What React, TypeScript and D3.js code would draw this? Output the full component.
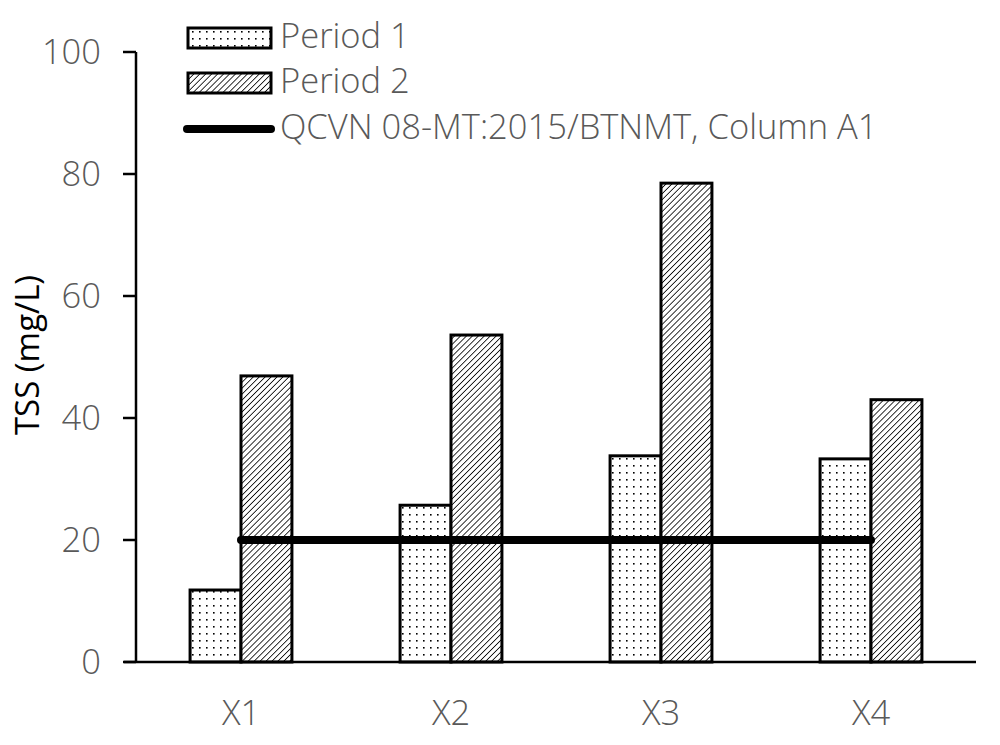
import React from "react";
import * as d3 from "d3";

const categories = ["X1", "X2", "X3", "X4"];
const period1 = [11.8, 25.7, 33.8, 33.3];
const period2 = [46.9, 53.6, 78.5, 43.0];
const standardValue = 20;
const yTicks = [0, 20, 40, 60, 80, 100];
const seriesNames = ["Period 1", "Period 2", "QCVN 08-MT:2015/BTNMT, Column A1"];

export default function App() {
  const W = 1000, H = 745;
  const left = 136, right = 976, top = 52, bottom = 662;
  const x = d3.scaleBand<string>().domain(categories).range([left, right]).paddingInner(0.515).paddingOuter(0.2575);
  const y = d3.scaleLinear().domain([0, 100]).range([bottom, top]);
  const bw = x.bandwidth() / 2;
  const font = "'Open Sans', 'Noto Sans', sans-serif";
  const gray = "#595959";
  const lineX0 = (x(categories[0]) as number) + bw;
  const lineX1 = (x(categories[categories.length - 1]) as number) + bw;
  const fs = 34.5;
  return (
    <svg width={W} height={H} style={{ position: "absolute", left: 0, top: 0, background: "#fff" }}>
      <defs>
        <pattern id="dots" width="7" height="7" patternUnits="userSpaceOnUse">
          <rect width="7" height="7" fill="#fff" />
          <rect x="3" y="3" width="1.6" height="1.6" fill="#000" />
        </pattern>
        <pattern id="hatch" width="4.2" height="4.2" patternUnits="userSpaceOnUse" patternTransform="rotate(45)">
          <rect width="4.2" height="4.2" fill="#fff" />
          <line x1="0" y1="0" x2="0" y2="4.2" stroke="#000" strokeWidth="1.6" />
        </pattern>
      </defs>
      {/* bars */}
      {categories.map((c, i) => {
        const x0 = x(c) as number;
        return (
          <g key={c}>
            <rect x={x0} y={y(period1[i])} width={bw} height={bottom - y(period1[i])} fill="url(#dots)" stroke="#000" strokeWidth={3} />
            <rect x={x0 + bw} y={y(period2[i])} width={bw} height={bottom - y(period2[i])} fill="url(#hatch)" stroke="#000" strokeWidth={3} />
          </g>
        );
      })}
      {/* standard line */}
      <line x1={lineX0} x2={lineX1} y1={y(standardValue)} y2={y(standardValue)} stroke="#000" strokeWidth={8} strokeLinecap="round" />
      {/* axes */}
      <line x1={left} x2={left} y1={top} y2={bottom} stroke="#000" strokeWidth={2.5} />
      <line x1={124} x2={right} y1={bottom} y2={bottom} stroke="#000" strokeWidth={2.5} />
      {yTicks.map((t) => (
        <g key={t}>
          <line x1={123} x2={left} y1={y(t)} y2={y(t)} stroke="#000" strokeWidth={2.5} />
          <text x={101} y={y(t)} dy="0.35em" textAnchor="end" fontFamily={font} fontWeight={300} fontSize={fs} fill={gray}>{t}</text>
        </g>
      ))}
      {categories.map((c) => (
        <text key={c} x={(x(c) as number) + bw} y={713} dy="0.35em" textAnchor="middle" fontFamily={font} fontWeight={300} fontSize={fs} fill={gray}>{c}</text>
      ))}
      <text transform={`translate(27,355) rotate(-90)`} textAnchor="middle" dy="0.35em" fontFamily={font} fontSize={33} fill="#000">TSS (mg/L)</text>
      {/* legend */}
      <rect x={188} y={28} width={83} height={20} fill="url(#dots)" stroke="#000" strokeWidth={3} />
      <text x={280} y={36} dy="0.35em" fontFamily={font} fontWeight={300} fontSize={fs} fill={gray}>{seriesNames[0]}</text>
      <rect x={188} y={73} width={83} height={20} fill="url(#hatch)" stroke="#000" strokeWidth={3} />
      <text x={280} y={81} dy="0.35em" fontFamily={font} fontWeight={300} fontSize={fs} fill={gray}>{seriesNames[1]}</text>
      <line x1={187} x2={271} y1={129} y2={129} stroke="#000" strokeWidth={8} strokeLinecap="round" />
      <text x={280} y={127} dy="0.35em" fontFamily={font} fontWeight={300} fontSize={fs} fill={gray}>{seriesNames[2]}</text>
    </svg>
  );
}
